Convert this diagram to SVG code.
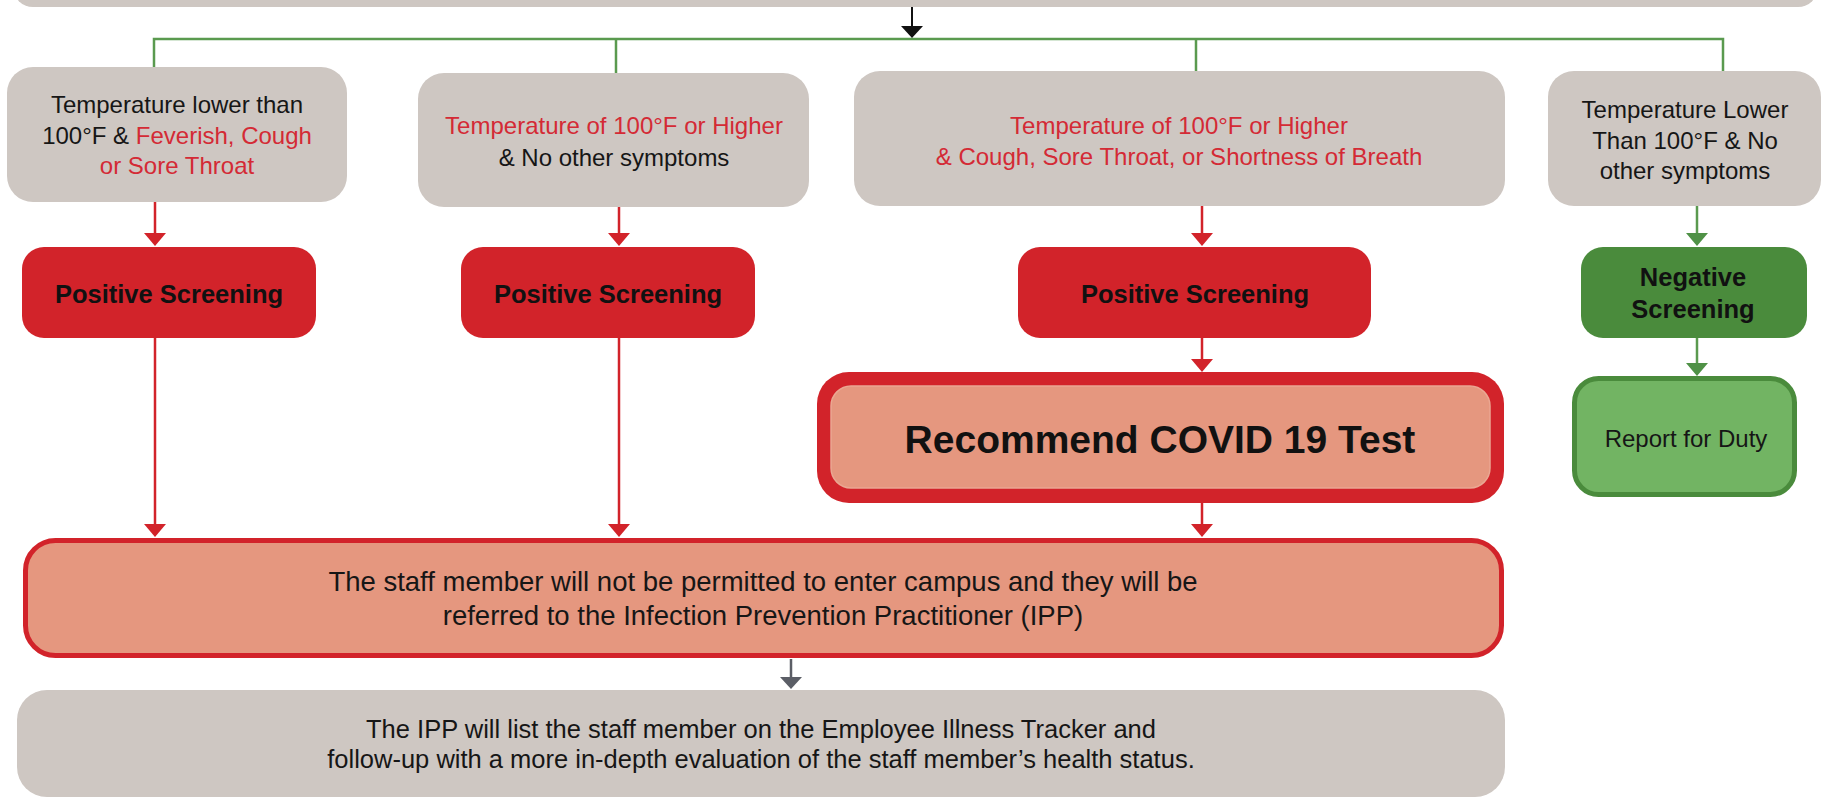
<svg xmlns="http://www.w3.org/2000/svg" width="1822" height="798" viewBox="0 0 1822 798">
<style>
  .g{fill:#cec7c2}
  .red{fill:#d2232a}
  .t{font-family:"Liberation Sans",Arial,sans-serif;font-size:24px;fill:#161616;text-anchor:middle}
  .rt{fill:#d42a35}
  .b{font-weight:bold;font-size:25.5px;fill:#111}
  .hd{font-weight:bold;font-size:39px;fill:#111}
  .big{font-size:27.5px}
  .bot{font-size:25.5px}
  .cr{stroke:#d2232a;stroke-width:2.5;fill:none}
  .cg{stroke:#5a9a4f;stroke-width:2.5;fill:none}
  .ck{stroke:#111;stroke-width:2;fill:none}
  .cy{stroke:#5b5e66;stroke-width:2.5;fill:none}
</style>
<defs>
  <marker id="ar" markerUnits="userSpaceOnUse" viewBox="0 0 13 22" markerWidth="13" markerHeight="22" refX="7" refY="11" orient="auto"><path d="M0,0 L13,11 L0,22 Z" fill="#d2232a"/></marker>
  <marker id="ag" markerUnits="userSpaceOnUse" viewBox="0 0 13 22" markerWidth="13" markerHeight="22" refX="7" refY="11" orient="auto"><path d="M0,0 L13,11 L0,22 Z" fill="#4f9146"/></marker>
  <marker id="ak" markerUnits="userSpaceOnUse" viewBox="0 0 12 22" markerWidth="12" markerHeight="22" refX="6" refY="11" orient="auto"><path d="M0,0 L12,11 L0,22 Z" fill="#111"/></marker>
  <marker id="ay" markerUnits="userSpaceOnUse" viewBox="0 0 12 22" markerWidth="12" markerHeight="22" refX="6" refY="11" orient="auto"><path d="M0,0 L12,11 L0,22 Z" fill="#5b5e66"/></marker>
</defs>

<g id="connectors">
  <path class="cg" d="M154,67 V39 H1723 V71" stroke-width="3"/>
  <path class="cg" d="M616,39 V73" stroke-width="3"/>
  <path class="cg" d="M1196,39 V71" stroke-width="3"/>
  <path class="ck" d="M912,7 V32" marker-end="url(#ak)"/>
  <path class="cr" d="M155,202 V240" marker-end="url(#ar)"/>
  <path class="cr" d="M619,207 V240" marker-end="url(#ar)"/>
  <path class="cr" d="M1202,206 V240" marker-end="url(#ar)"/>
  <path class="cr" d="M155,338 V531" marker-end="url(#ar)"/>
  <path class="cr" d="M619,338 V531" marker-end="url(#ar)"/>
  <path class="cr" d="M1202,338 V366" marker-end="url(#ar)"/>
  <path class="cr" d="M1202,503 V531" marker-end="url(#ar)"/>
  <path class="cg" d="M1697,206 V240" marker-end="url(#ag)"/>
  <path class="cg" d="M1697,338 V370" marker-end="url(#ag)"/>
  <path class="cy" d="M791,659 V683" marker-end="url(#ay)"/>
</g>

<g id="top">
  <rect class="g" x="13" y="-40" width="1805" height="47" rx="20"/>
</g>

<g id="cond1">
  <rect class="g" x="7" y="67" width="340" height="135" rx="26"/>
  <text class="t" x="177" y="113">Temperature lower than</text>
  <text class="t" x="177" y="143.5">100°F &amp; <tspan class="rt">Feverish, Cough</tspan></text>
  <text class="t rt" x="177" y="174">or Sore Throat</text>
</g>

<g id="cond2">
  <rect class="g" x="418" y="73" width="391" height="134" rx="26"/>
  <text class="t rt" x="614" y="134">Temperature of 100°F or Higher</text>
  <text class="t" x="614" y="165.5">&amp; No other symptoms</text>
</g>

<g id="cond3">
  <rect class="g" x="854" y="71" width="651" height="135" rx="26"/>
  <text class="t rt" x="1179" y="133.5">Temperature of 100°F or Higher</text>
  <text class="t rt" x="1179" y="164.5">&amp; Cough, Sore Throat, or Shortness of Breath</text>
</g>

<g id="cond4">
  <rect class="g" x="1548" y="71" width="273" height="135" rx="26"/>
  <text class="t" x="1685" y="118">Temperature Lower</text>
  <text class="t" x="1685" y="148.5">Than 100°F &amp; No</text>
  <text class="t" x="1685" y="179">other symptoms</text>
</g>

<g id="pos1">
  <rect class="red" x="22" y="247" width="294" height="91" rx="22"/>
  <text class="t b" x="169" y="303">Positive Screening</text>
</g>

<g id="pos2">
  <rect class="red" x="461" y="247" width="294" height="91" rx="22"/>
  <text class="t b" x="608" y="303">Positive Screening</text>
</g>

<g id="pos3">
  <rect class="red" x="1018" y="247" width="353" height="91" rx="22"/>
  <text class="t b" x="1195" y="303">Positive Screening</text>
</g>

<g id="neg">
  <rect x="1581" y="247" width="226" height="91" rx="22" fill="#4a8b3c"/>
  <text class="t b" x="1693" y="286">Negative</text>
  <text class="t b" x="1693" y="318">Screening</text>
</g>

<g id="covid">
  <rect class="red" x="817" y="372" width="687" height="131" rx="32"/>
  <rect x="831" y="386" width="659" height="102" rx="20" fill="#e5977f" stroke="#eaa792" stroke-width="1.5"/>
  <text class="t hd" x="1160" y="453">Recommend COVID 19 Test</text>
</g>

<g id="duty">
  <rect x="1574.5" y="378.5" width="220" height="116" rx="24" fill="#72b463" stroke="#4a8b3c" stroke-width="5"/>
  <text class="t" x="1686" y="447">Report for Duty</text>
</g>

<g id="refer">
  <rect x="25.5" y="540.5" width="1476" height="115" rx="30" fill="#e5977f" stroke="#d2232a" stroke-width="5"/>
  <text class="t big" x="763" y="591">The staff member will not be permitted to enter campus and they will be</text>
  <text class="t big" x="763" y="625">referred to the Infection Prevention Practitioner (IPP)</text>
</g>

<g id="ipp">
  <rect class="g" x="17" y="690" width="1488" height="107" rx="30"/>
  <text class="t bot" x="761" y="738">The IPP will list the staff member on the Employee Illness Tracker and</text>
  <text class="t bot" x="761" y="768">follow-up with a more in-depth evaluation of the staff member’s health status.</text>
</g>
</svg>
